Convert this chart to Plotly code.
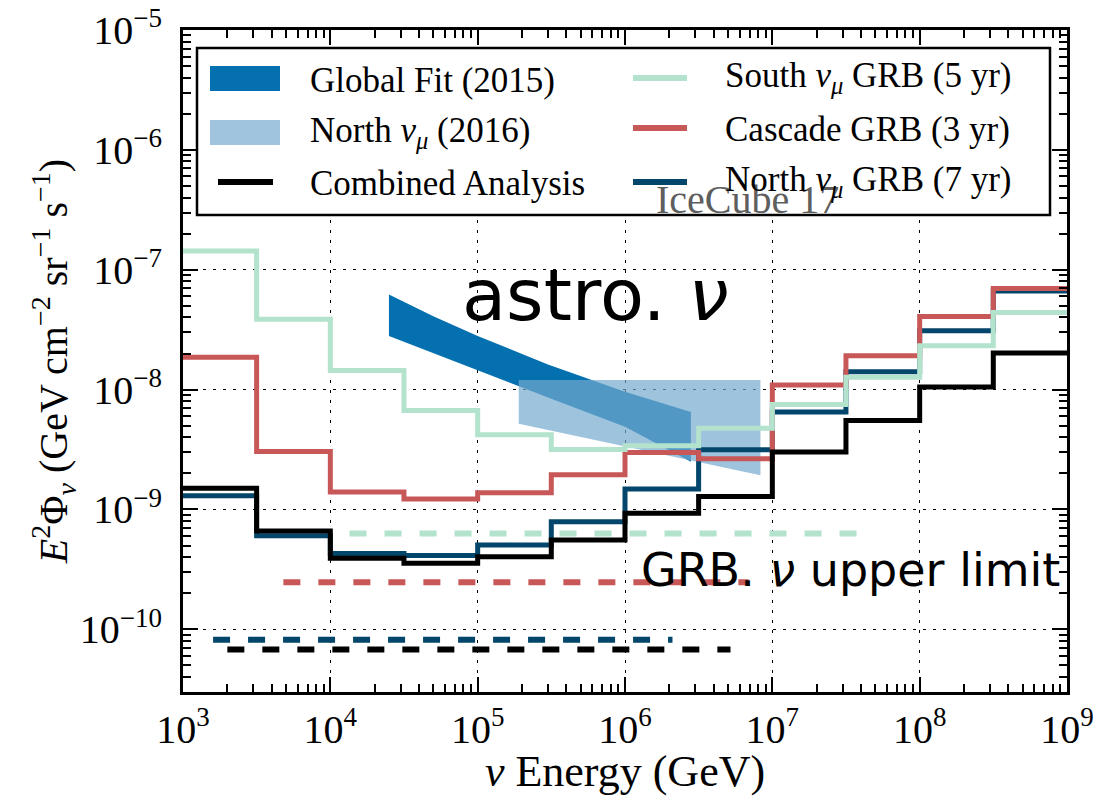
import numpy as np
import plotly.graph_objects as go

# ---------------- data ----------------
energy_edges = [1e3, 3.16e3, 1e4, 3.16e4, 1e5, 3.16e5, 1e6, 3.16e6, 1e7, 3.16e7, 1e8, 3.16e8, 1e9]

south_numu_grb = [1.43e-7, 3.87e-8, 1.44e-8, 6.7e-9, 4.2e-9, 3.17e-9, 3.4e-9, 4.77e-9, 7.5e-9, 1.27e-8, 2.32e-8, 4.4e-8]
cascade_grb = [1.86e-8, 3.05e-9, 1.40e-9, 1.22e-9, 1.38e-9, 1.95e-9, 2.98e-9, 2.65e-9, 1.09e-8, 1.92e-8, 4.07e-8, 6.97e-8]
north_numu_grb = [1.30e-9, 6.04e-10, 4.3e-10, 4.12e-10, 5.05e-10, 7.9e-10, 1.48e-9, 3.15e-9, 6.49e-9, 1.41e-8, 3.09e-8, 6.65e-8]
combined = [1.50e-9, 6.6e-10, 3.92e-10, 3.56e-10, 4.04e-10, 5.56e-10, 9.3e-10, 1.28e-9, 3.02e-9, 5.52e-9, 1.05e-8, 2.02e-8]

# GRB quasi-diffuse upper limits (energy range, level)
ul_south_energy = [1.35e4, 4.6e7]
ul_south_value = 6.3e-10
ul_cascade_energy = [4.8e3, 6.9e6]
ul_cascade_value = 2.47e-10
ul_north_energy = [1.6e3, 2.1e6]
ul_north_value = 8.2e-11
ul_combined_energy = [2.0e3, 5.2e6]
ul_combined_value = 6.8e-11

# astrophysical neutrino flux bands
gf_energy = [2.5e4, 5e4, 1e5, 3e5, 1e6, 2.8e6]
gf_upper = [6.2e-8, 4.1e-8, 2.8e-8, 1.62e-8, 9.6e-9, 6.5e-9]
gf_lower = [2.8e-8, 2.0e-8, 1.44e-8, 8.6e-9, 4.9e-9, 2.5e-9]

nn_energy = [1.9e5, 8.3e6]
nn_upper = [1.2e-8, 1.2e-8]
nn_lower = [5.2e-9, 1.93e-9]

# tick labels
x_tickvals = [1e3, 1e4, 1e5, 1e6, 1e7, 1e8, 1e9]
x_exponents = ["3", "4", "5", "6", "7", "8", "9"]
y_tickvals = [1e-10, 1e-9, 1e-8, 1e-7, 1e-6, 1e-5]
y_exponents = ["−10", "−9", "−8", "−7", "−6", "−5"]

legend_labels = ["Global Fit (2015)", "North <i>ν</i><sub><i>μ</i></sub> (2016)", "Combined Analysis",
                 "South <i>ν</i><sub><i>μ</i></sub> GRB (5 yr)", "Cascade GRB (3 yr)",
                 "North <i>ν</i><sub><i>μ</i></sub> GRB (7 yr)"]

# ---------------- style ----------------
C_GF = "#0570b0"
C_NN = "rgba(116,169,207,0.70)"
C_NN_SOLID = "#a0c4de"
C_SOUTH = "#b3e2cd"
C_CASC = "#c85858"
C_NORTH = "#03466b"
C_COMB = "#000000"
SERIF = "Liberation Serif"
SANS = "DejaVu Sans"

W, H = 1095, 796
ML, MR, MT, MB = 183, 28, 30, 104
PW, PH = W - ML - MR, H - MT - MB


def px(x):
    return (x - ML) / PW


def py(y):
    return (H - MB - y) / PH


def pow_label(e):
    return '10<sup><span style="font-size:27px">' + e + '</span></sup>'


fig = go.Figure()

# bands
fig.add_trace(go.Scatter(x=gf_energy + gf_energy[::-1], y=gf_upper + gf_lower[::-1],
                         fill="toself", fillcolor=C_GF, line=dict(width=0), mode="lines",
                         name="Global Fit (2015)", showlegend=False, hoverinfo="skip"))
fig.add_trace(go.Scatter(x=nn_energy + nn_energy[::-1], y=nn_upper + nn_lower[::-1],
                         fill="toself", fillcolor=C_NN, line=dict(width=0), mode="lines",
                         name="North νμ (2016)", showlegend=False, hoverinfo="skip"))


def step(vals):
    return vals + [vals[-1]]


for vals, col, name in [(north_numu_grb, C_NORTH, "North νμ GRB (7 yr)"),
                        (cascade_grb, C_CASC, "Cascade GRB (3 yr)"),
                        (south_numu_grb, C_SOUTH, "South νμ GRB (5 yr)"),
                        (combined, C_COMB, "Combined Analysis")]:
    fig.add_trace(go.Scatter(x=energy_edges, y=step(vals), mode="lines", line_shape="hv",
                             line=dict(color=col, width=5), name=name, showlegend=False))

for rng, val, col in [(ul_south_energy, ul_south_value, C_SOUTH),
                      (ul_cascade_energy, ul_cascade_value, C_CASC),
                      (ul_north_energy, ul_north_value, C_NORTH),
                      (ul_combined_energy, ul_combined_value, C_COMB)]:
    fig.add_trace(go.Scatter(x=rng, y=[val, val], mode="lines",
                             line=dict(color=col, width=6, dash="17px,18px"),
                             showlegend=False, hoverinfo="skip"))

axis_common = dict(
    type="log", showline=True, linecolor="black", linewidth=3, mirror="allticks",
    ticks="inside", ticklen=15, tickwidth=1.5, tickcolor="black",
    showgrid=True, gridcolor="black", gridwidth=1.3, griddash="3px,7px",
    tickmode="array", zeroline=False, ticklabeloverflow="allow",
    tickfont=dict(family=SERIF, size=40, color="black"),
    minor=dict(ticks="inside", ticklen=8, tickwidth=1.5, tickcolor="black", dtick="D1", showgrid=False),
)

fig.update_xaxes(**axis_common, range=[3, 9], ticklabelstandoff=0,
                 tickvals=x_tickvals, ticktext=[pow_label(e) for e in x_exponents],
                 title=dict(text="<i>ν</i> Energy (GeV)", font=dict(family=SERIF, size=44, color="black"),
                            standoff=16))
fig.update_yaxes(**axis_common, range=[np.log10(3e-11), -5], ticklabelstandoff=10,
                 tickvals=y_tickvals, ticktext=[pow_label(e) for e in y_exponents],
                 title=dict(text="<i>E</i><sup>2</sup>Φ<sub><i>ν</i></sub> (GeV cm<sup>−2</sup> sr<sup>−1</sup> s<sup>−1</sup>)",
                            font=dict(family=SERIF, size=40, color="black"), standoff=0))

shapes = []
annotations = []
# legend box
shapes.append(dict(type="rect", xref="paper", yref="paper", x0=px(197), x1=px(1050), y0=py(215), y1=py(48),
                   fillcolor="white", line=dict(color="black", width=2.5), layer="above"))
# patches
shapes.append(dict(type="rect", xref="paper", yref="paper", x0=px(210), x1=px(280), y0=py(91), y1=py(66),
                   fillcolor=C_GF, line=dict(width=0), layer="above"))
shapes.append(dict(type="rect", xref="paper", yref="paper", x0=px(210), x1=px(280), y0=py(145), y1=py(120),
                   fillcolor=C_NN_SOLID, line=dict(width=0), layer="above"))
# line samples
for x0, x1, yy, col in [(218, 273, 182, C_COMB), (633, 687, 78, C_SOUTH), (633, 687, 128, C_CASC),
                        (633, 687, 182, C_NORTH)]:
    shapes.append(dict(type="line", xref="paper", yref="paper", x0=px(x0), x1=px(x1), y0=py(yy), y1=py(yy),
                       line=dict(color=col, width=6), layer="above"))

annotations.append(dict(text="IceCube 17", x=px(747), y=py(200), xref="paper", yref="paper",
                        showarrow=False, font=dict(family=SERIF, size=40, color="#5e5e5e"),
                        xanchor="center", yanchor="middle"))

for lab, xx, yy in [(legend_labels[0], 308, 80), (legend_labels[1], 308, 132), (legend_labels[2], 308, 184),
                    (legend_labels[3], 723, 78), (legend_labels[4], 723, 130), (legend_labels[5], 723, 182)]:
    annotations.append(dict(text=lab, x=px(xx), y=py(yy), xref="paper", yref="paper", showarrow=False,
                            font=dict(family=SERIF, size=35, color="black"), xanchor="left", yanchor="middle"))

annotations.append(dict(text="astro. <i>ν</i>", x=px(595), y=py(295), xref="paper", yref="paper",
                        showarrow=False, font=dict(family=SANS, size=72, color="black"),
                        xanchor="center", yanchor="middle"))
annotations.append(dict(text="GRB. <i>ν</i> upper limit", x=px(850), y=py(570), xref="paper", yref="paper",
                        showarrow=False, font=dict(family=SANS, size=46, color="black"),
                        xanchor="center", yanchor="middle"))

fig.update_layout(width=W, height=H, margin=dict(l=ML, r=MR, t=MT, b=MB, autoexpand=False),
                  plot_bgcolor="white", paper_bgcolor="white", shapes=shapes, annotations=annotations,
                  showlegend=False)

fig.write_html("out.html")
